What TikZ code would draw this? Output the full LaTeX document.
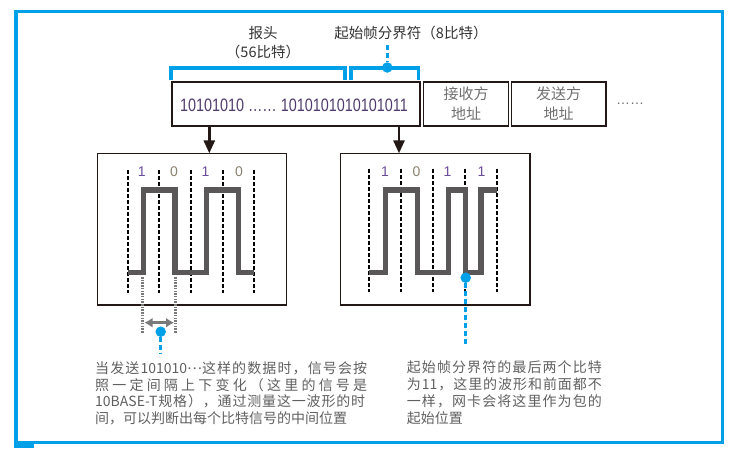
\documentclass[tikz,border=0pt]{standalone}
\usepackage{fontspec}
\setmainfont{Liberation Sans}
\newfontfamily\cjk{Noto Sans CJK SC}
\newfontfamily\narrowdig[FakeStretch=0.8]{Liberation Sans}
\usetikzlibrary{arrows.meta}
\XeTeXinterchartokenstate=0
\makeatletter
\count@="4E00
\loop\ifnum\count@<"A000 \XeTeXcharclass\count@=200 \advance\count@\@ne\repeat
\count@="3000
\loop\ifnum\count@<"3040 \XeTeXcharclass\count@=200 \advance\count@\@ne\repeat
\count@="FF00
\loop\ifnum\count@<"FFF0 \XeTeXcharclass\count@=200 \advance\count@\@ne\repeat
\makeatother
\XeTeXinterchartoks 200 200 = {\hskip 0pt plus 1fil\relax}
\XeTeXinterchartoks 0 200 = {\hskip 0pt plus 1fil\relax}
\XeTeXinterchartoks 200 0 = {\hskip 0pt plus 1fil\relax}
\newcommand\jline[2]{\makebox[#1][s]{\XeTeXinterchartokenstate=1 #2}}
\definecolor{cblue}{HTML}{00A0E9}
\definecolor{cdark}{HTML}{231815}
\definecolor{cwave}{HTML}{595757}
\definecolor{ctext}{HTML}{606060}
\definecolor{clabel}{HTML}{333333}
\definecolor{cgraybox}{HTML}{707070}
\definecolor{cdig}{RGB}{80,60,110}
\definecolor{cone}{HTML}{6B4C9A}
\definecolor{czero}{HTML}{8A8070}
\definecolor{cmeas}{HTML}{7A7A7A}
\begin{document}
\begin{tikzpicture}[x=1pt,y=-1pt,
  box/.style={draw=cdark, line width=1.5pt, inner sep=0pt, outer sep=0pt, rectangle},
  arr/.style={draw=cdark, line width=2.7pt, -{Triangle[length=13pt,width=11pt]}},
  bracket/.style={draw=cblue, line width=3.3pt},
  bdash/.style={draw=cblue, line width=3.3pt, dash pattern=on 5pt off 3pt},
  bdot/.style={circle, fill=cblue, minimum size=10.5pt, inner sep=0pt},
  vdash/.style={draw=black, line width=1.8pt, dash pattern=on 3.5pt off 2.5pt},
  wave/.style={draw=cwave, line width=5.5pt, line join=miter},
  meas/.style={draw=cmeas, line width=2.5pt, dash pattern=on 1.5pt off 1.2pt},
  darr/.style={draw=cmeas, line width=3pt, {Latex[length=8pt,width=10pt]}-{Latex[length=8pt,width=10pt]}},
  desc/.style={font=\cjk\fontsize{14}{17}\selectfont, text=ctext, inner sep=0pt, anchor=west},
  head/.style={font=\cjk\fontsize{14.5}{17}\selectfont, text=clabel, inner sep=0pt},
  bit/.style={font=\fontsize{14}{16}\selectfont, inner sep=0pt}
]
\useasboundingbox (0,0) rectangle (732,448);
% outer frame
\draw[draw=cblue, line width=3.5pt] (16,11.5) rectangle (722.5,442.5);
\fill[cblue] (14.25,441) rectangle (34,448);

% header labels
\node[head] (hdr) at (263,33) {报头};
\node[head] (hdrbits) at (263,52) {（56比特）};
\node[head] (sfdlabel) at (411,33) {起始帧分界符（8比特）};

% frame boxes
\node[box, minimum width=248pt, minimum height=44pt] (frame) at (296,104) {};
\node[font=\narrowdig\fontsize{18}{20}\selectfont, text=cdig, inner sep=0pt] (bits) at (294,105) {10101010 …… 1010101010101011};
\node[box, minimum width=85.4pt, minimum height=44pt, align=center, font=\cjk\fontsize{15}{20}\selectfont, text=cgraybox] (rcv) at (466,104) {接收方\\地址};
\node[box, minimum width=94.7pt, minimum height=44pt, align=center, font=\cjk\fontsize{15}{20}\selectfont, text=cgraybox] (snd) at (558.7,104) {发送方\\地址};
\node[font=\fontsize{14}{16}\selectfont, text=cgraybox, inner sep=0pt] (more) at (630,104) {……};

% brackets
\draw[bracket] (171,79.5) -- (171,68) -- (345,68) -- (345,79.5);
\draw[bracket] (351,79.5) -- (351,68) -- (418.7,68) -- (418.7,79.5);
\node[bdot] (sfddot) at (387.3,67.5) {};
\coordinate (sfdtop) at (387.3,45);
\draw[bdash] (sfdtop) -- (sfddot);

% wave boxes
\node[box, minimum width=189.4pt, minimum height=151.7pt] (lwave) at (192,229.2) {};
\node[box, minimum width=189.4pt, minimum height=151.7pt] (rwave) at (435.3,229.2) {};

% arrows
\coordinate (ax1) at (209.3,140);
\coordinate (ax2) at (399,140);
\draw[arr] (frame.south -| ax1) -- (lwave.north -| ax1);
\draw[arr] (frame.south -| ax2) -- (rwave.north -| ax2);

% left wave
\foreach \x in {127.7,159,190.7,222.7,254.3} \draw[vdash] (\x,170) -- (\x,293.3);
\node[bit, text=cone] (l1) at (141.7,171.7) {1};
\node[bit, text=czero] (l2) at (174,171.7) {0};
\node[bit, text=cone] (l3) at (205.5,171.7) {1};
\node[bit, text=czero] (l4) at (239,171.7) {0};
\draw[wave] (127.7,272.7) -- (143.3,272.7) -- (143.3,190) -- (175,190) -- (175,272.7) -- (206.7,272.7) -- (206.7,190) -- (238.5,190) -- (238.5,272.7) -- (254.3,272.7);

% right wave
\foreach \x in {369.3,400.7,432.7,465,496.7} \draw[vdash] (\x,169.3) -- (\x,291.7);
\node[bit, text=cone] (r1) at (385,171.7) {1};
\node[bit, text=czero] (r2) at (416.5,171.7) {0};
\node[bit, text=cone] (r3) at (447.5,171.7) {1};
\node[bit, text=cone] (r4) at (481.5,171.7) {1};
\draw[wave] (369.3,272.7) -- (385.5,272.7) -- (385.5,190) -- (417.5,190) -- (417.5,272.7) -- (448.5,272.7) -- (448.5,190) -- (465.5,190) -- (465.5,272.7) -- (481,272.7) -- (481,190) -- (496.7,190);

% left measurement
\draw[meas] (142.3,277) -- (142.3,333);
\draw[meas] (175.7,277) -- (175.7,333);
\coordinate (da1) at (144.5,322.7);
\coordinate (da2) at (174,322.7);
\draw[darr] (da1) -- (da2);
\node[bdot] (ldot) at (160.7,331.7) {};
\coordinate (lend) at (160.7,354);
\draw[bdash] (ldot) -- (lend);

% right marker
\node[bdot] (rdot) at (465.7,277.7) {};
\coordinate (rend) at (465.7,346);
\draw[bdash] (rdot) -- (rend);

% left description
\node[desc] (lt1) at (95,368.3) {\jline{272pt}{当发送101010\raisebox{3.5pt}{…}这样的数据时，信号会按}};
\node[desc] (lt2) at (95,385) {\jline{272pt}{照一定间隔上下变化（这里的信号是}};
\node[desc] (lt3) at (95,401.7) {\jline{270pt}{10BASE-T规格），通过测量这一波形的时}};
\node[desc] (lt4) at (95,418.3) {间，可以判断出每个比特信号的中间位置};

% right description
\node[desc] (rt1) at (406.7,367.5) {\jline{195pt}{起始帧分界符的最后两个比特}};
\node[desc] (rt2) at (406.7,384.5) {\jline{195pt}{为11，这里的波形和前面都不}};
\node[desc] (rt3) at (406.7,401.5) {\jline{195pt}{一样，网卡会将这里作为包的}};
\node[desc] (rt4) at (406.7,418.3) {起始位置};
\end{tikzpicture}
\end{document}
